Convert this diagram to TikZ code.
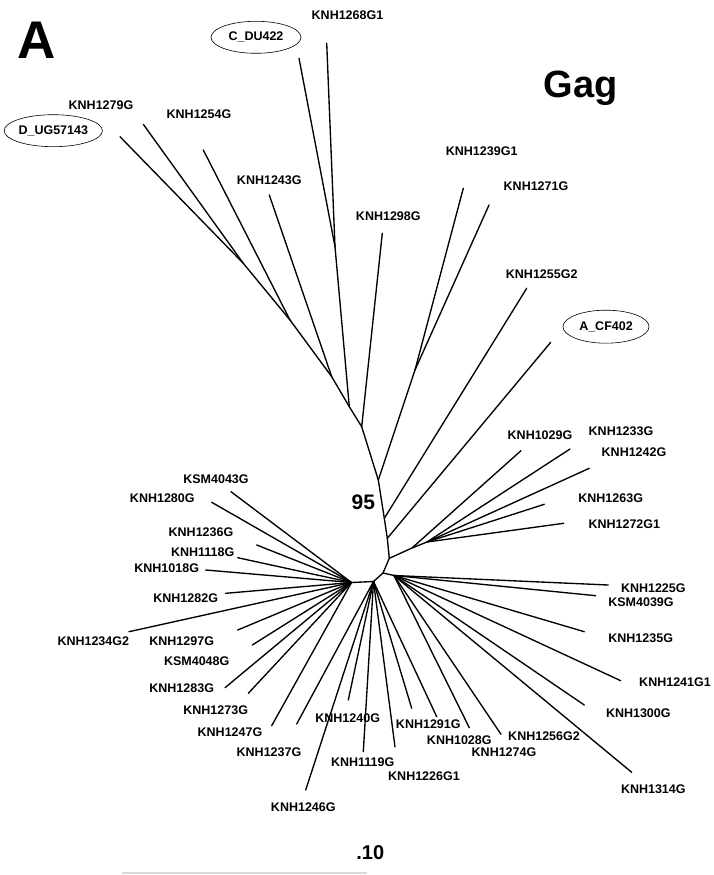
\documentclass[tikz,border=0pt]{standalone}
\usepackage{fontspec}
\setmainfont{Liberation Sans}
\usetikzlibrary{shapes.geometric}
\begin{document}
\begin{tikzpicture}[x=1pt,y=-1pt,
  br/.style={line width=1.35pt, line cap=round, line join=round},
  lbl/.style={font=\fontsize{12.5}{14}\selectfont\bfseries, inner sep=0pt},
  refbox/.style={lbl, draw, ellipse, line width=0.6pt, minimum width=90pt, minimum height=32pt, inner sep=0pt}]
\useasboundingbox (0,0) rectangle (714,875);

% internal nodes
\coordinate (nUL1) at (243.3,263.3);
\coordinate (nUL2) at (290,320);
\coordinate (nUL3) at (331.7,376.7);
\coordinate (nC) at (335,246.7);
\coordinate (nUL4) at (349.3,406.7);
\coordinate (nT1) at (361.7,426.7);
\coordinate (nE) at (415,370);
\coordinate (nT2) at (378.3,480);
\coordinate (nT3) at (384.3,518.3);
\coordinate (nT4) at (387.3,538.3);
\coordinate (nT5) at (389.3,558.3);
\coordinate (nN1) at (412,548);
\coordinate (nN2) at (427,542);
\coordinate (nCC) at (383,573);
\coordinate (nR) at (394,575.5);
\coordinate (nB) at (373.5,581.5);
\coordinate (nL) at (351.5,582.5);

% tips
\coordinate (tDUG) at (120,136.7);
\coordinate (t1279) at (143.3,124.3);
\coordinate (t1254) at (203.3,150);
\coordinate (t1243) at (269.3,195);
\coordinate (tCDU) at (299,58.3);
\coordinate (t1268) at (326.7,43.3);
\coordinate (t1298) at (382.3,233.3);
\coordinate (t1239) at (463.3,188.3);
\coordinate (t1271) at (489,205);
\coordinate (t1255) at (526.7,288.3);
\coordinate (tACF) at (550.7,342.3);
\coordinate (t1029) at (521,450.7);
\coordinate (t1233) at (570,449);
\coordinate (t1242) at (589.3,468.3);
\coordinate (t1263) at (544.3,504.3);
\coordinate (t1272) at (563.7,523.3);
\coordinate (t1225) at (608.3,585);
\coordinate (t4039) at (595.7,595.7);
\coordinate (t1235) at (584.3,631.7);
\coordinate (t1241) at (620.7,680.7);
\coordinate (t1300) at (584.3,705);
\coordinate (t1314) at (631.7,772.3);
\coordinate (t1256) at (501,734.3);
\coordinate (t1274) at (469.3,727.7);
\coordinate (t1028) at (436.7,716.7);
\coordinate (t1291) at (411.7,708.3);
\coordinate (t1226) at (395,747);
\coordinate (t1119) at (363.3,751.7);
\coordinate (t1240) at (348.3,700);
\coordinate (t1246) at (305.7,790);
\coordinate (t1237) at (296.7,724);
\coordinate (t1247) at (271.7,725.7);
\coordinate (t1273) at (248.3,693.3);
\coordinate (t1283) at (225,687.7);
\coordinate (t4048) at (252.3,645);
\coordinate (t1297) at (237.7,630);
\coordinate (t1234) at (129,631.7);
\coordinate (t1282) at (225.7,593.3);
\coordinate (t1018) at (205.7,570);
\coordinate (t1118) at (237.7,557.7);
\coordinate (t1236) at (256.7,545);
\coordinate (t1280) at (211.7,502.3);
\coordinate (t4043) at (231,491.7);

% branches: upper clade
\draw[br] (tDUG) -- (nUL1);
\draw[br] (t1279) -- (nUL1);
\draw[br] (nUL1) -- (nUL2);
\draw[br] (t1254) -- (nUL2);
\draw[br] (nUL2) -- (nUL3);
\draw[br] (t1243) -- (nUL3);
\draw[br] (nUL3) -- (nUL4);
\draw[br] (tCDU) -- (nC);
\draw[br] (t1268) -- (nC);
\draw[br] (nC) -- (nUL4);
\draw[br] (nUL4) -- (nT1);
\draw[br] (t1298) -- (nT1);
\draw[br] (t1239) -- (nE);
\draw[br] (t1271) -- (nE);
\draw[br] (nE) -- (nT2);
% trunk
\draw[br] (nT1) -- (nT2) -- (nT3) -- (nT4) -- (nT5) -- (nCC);
\draw[br] (nT3) -- (t1255);
\draw[br] (nT4) -- (tACF);
\draw[br] (nT5) -- (nN1);
\draw[br] (nN1) -- (t1029);
\draw[br] (nN1) -- (nN2);
\draw[br] (nN2) -- (t1233);
\draw[br] (nN2) -- (t1242);
\draw[br] (nN2) -- (t1263);
\draw[br] (nN2) -- (t1272);
% root region
\draw[br] (nCC) -- (nR);
\draw[br] (nCC) -- (nB) -- (nL);
% right fan
\foreach \t in {t1225,t4039,t1235,t1241,t1300,t1314,t1256,t1274}
  \draw[br] (nR) -- (\t);
% bottom fan
\foreach \t in {t1028,t1291,t1226,t1119,t1240,t1246,t1237}
  \draw[br] (nB) -- (\t);
% left fan
\foreach \t in {t1247,t1273,t1283,t4048,t1297,t1234,t1282,t1018,t1118,t1236,t1280,t4043}
  \draw[br] (nL) -- (\t);

% labels
\node[lbl] (lA) at (36.7,40) {\fontsize{53}{53}\selectfont A};
\node[lbl] (lGag) at (580.7,88.3) {\fontsize{38}{38}\selectfont Gag};
\node[lbl] (l95) at (363.3,502.7) {\fontsize{21}{21}\selectfont 95};
\node[lbl] (lscale) at (370.3,852.7) {\fontsize{20}{20}\selectfont .10};
\coordinate (sbA) at (122,873);
\coordinate (sbB) at (367,873);
\draw[gray!30, line width=1.2pt] (sbA) -- (sbB);

\node[refbox] (rDUG) at (53.3,130.7) {D\_UG57143};
\node[refbox] (rCDU) at (256,37.3) {C\_DU422};
\node[refbox, minimum width=86pt, minimum height=33pt] (rACF) at (606,326.7) {A\_CF402};

\node[lbl] (l1268) at (347.5,15) {KNH1268G1};
\node[lbl] (l1279) at (101,105) {KNH1279G};
\node[lbl] (l1254) at (199,114) {KNH1254G};
\node[lbl] (l1243) at (269.3,180) {KNH1243G};
\node[lbl] (l1298) at (388.3,216) {KNH1298G};
\node[lbl] (l1239) at (481.7,151.7) {KNH1239G1};
\node[lbl] (l1271) at (536,185.7) {KNH1271G};
\node[lbl] (l1255) at (541.7,274) {KNH1255G2};
\node[lbl] (l1029) at (540,435) {KNH1029G};
\node[lbl] (l1233) at (621,431.7) {KNH1233G};
\node[lbl] (l1242) at (634,452.3) {KNH1242G};
\node[lbl] (l1263) at (610.7,497.7) {KNH1263G};
\node[lbl] (l1272) at (624.3,523.7) {KNH1272G1};
\node[lbl] (l1225) at (653.3,587.7) {KNH1225G};
\node[lbl] (l4039) at (641,602.3) {KSM4039G};
\node[lbl] (l1235) at (640.7,638.3) {KNH1235G};
\node[lbl] (l1241) at (675,681.7) {KNH1241G1};
\node[lbl] (l1300) at (638.3,713.3) {KNH1300G};
\node[lbl] (l1314) at (653.3,788.7) {KNH1314G};
\node[lbl] (l1256) at (544,736) {KNH1256G2};
\node[lbl] (l1274) at (504,752.3) {KNH1274G};
\node[lbl] (l1028) at (459.3,740) {KNH1028G};
\node[lbl] (l1291) at (428.3,724.3) {KNH1291G};
\node[lbl] (l1226) at (424,775.7) {KNH1226G1};
\node[lbl] (l1119) at (362.7,762.3) {KNH1119G};
\node[lbl] (l1240) at (347.7,717.7) {KNH1240G};
\node[lbl] (l1246) at (303.3,807.3) {KNH1246G};
\node[lbl] (l1237) at (269,752.3) {KNH1237G};
\node[lbl] (l1247) at (230,731.7) {KNH1247G};
\node[lbl] (l1273) at (215.7,710) {KNH1273G};
\node[lbl] (l1283) at (181.7,687.7) {KNH1283G};
\node[lbl] (l4048) at (196.7,660.7) {KSM4048G};
\node[lbl] (l1297) at (181.7,641) {KNH1297G};
\node[lbl] (l1234) at (93.3,641) {KNH1234G2};
\node[lbl] (l1282) at (185.7,598.3) {KNH1282G};
\node[lbl] (l1018) at (166.7,568.3) {KNH1018G};
\node[lbl] (l1118) at (202.7,551.7) {KNH1118G};
\node[lbl] (l1236) at (201,532.3) {KNH1236G};
\node[lbl] (l1280) at (162.3,497.7) {KNH1280G};
\node[lbl] (l4043) at (216,479) {KSM4043G};
\end{tikzpicture}
\end{document}
